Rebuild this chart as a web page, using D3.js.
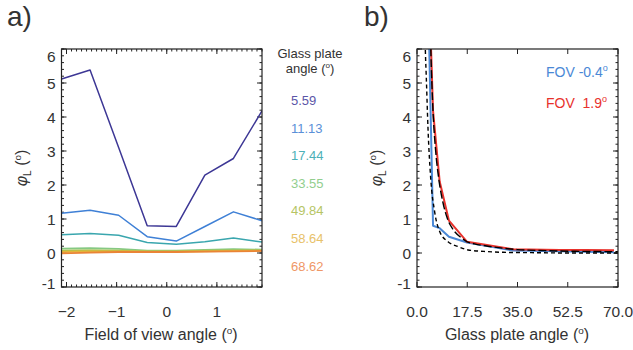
<!DOCTYPE html>
<html><head><meta charset="utf-8">
<script src="https://cdn.jsdelivr.net/npm/d3@7"></script>
<style>
html,body{margin:0;padding:0;background:#fff;}
svg{display:block;font-family:"Liberation Sans",Arial,Helvetica,sans-serif;}
</style></head>
<body><svg id="c" width="633" height="350"></svg>
<script>
// ---------------- DATA ----------------
// Panel a: field of view angles (deg)
const fovAngles = [-2.10, -1.53, -0.96, -0.39, 0.19, 0.76, 1.33, 1.90];
// Glass plate angles (legend labels)
const plateAngleLabels = ["5.59", "11.13", "17.44", "33.55", "49.84", "58.64", "68.62"];
// phi_L (deg) per glass plate angle, across field of view angles
const phi_5_59  = [5.12, 5.38, 3.10, 0.80, 0.78, 2.29, 2.78, 4.18];
const phi_11_13 = [1.17, 1.26, 1.11, 0.48, 0.35, 0.78, 1.21, 0.95];
const phi_17_44 = [0.54, 0.57, 0.52, 0.31, 0.26, 0.33, 0.44, 0.32];
const phi_33_55 = [0.13, 0.14, 0.12, 0.07, 0.07, 0.09, 0.11, 0.10];
const phi_49_84 = [0.07, 0.08, 0.07, 0.05, 0.05, 0.07, 0.08, 0.08];
const phi_58_64 = [0.03, 0.05, 0.05, 0.04, 0.04, 0.05, 0.06, 0.07];
const phi_68_62 = [-0.01, 0.01, 0.03, 0.03, 0.03, 0.04, 0.05, 0.06];
const seriesA = [phi_5_59, phi_11_13, phi_17_44, phi_33_55, phi_49_84, phi_58_64, phi_68_62];

// Panel b: glass plate angle (deg) vs phi_L for two FOV angles
const plateAnglesB = [3.0, 5.59, 7.9, 11.13, 17.44, 33.55, 49.84, 58.64, 68.62];
const phiFovM04 = [11.0, 0.80, 0.73, 0.48, 0.31, 0.07, 0.05, 0.04, 0.02];
const phiFov19  = [11.0, 4.18, 2.10, 0.95, 0.33, 0.11, 0.09, 0.09, 0.08];
const fovLegend = ["FOV -0.4", "FOV  1.9"];
// model curves (black dashed)
const modelLongAngles = [4.5, 4.8, 5.58, 6.5, 7.55, 9.0, 10.55, 12.5, 15.4, 17.5, 20.0, 24.7, 30.0, 35.0, 45.0, 55.0, 70.0];
const modelLongVals   = [7.0, 6.0, 4.16, 3.00, 2.20, 1.50, 1.02, 0.70, 0.45, 0.33, 0.27, 0.20, 0.14, 0.10, 0.07, 0.05, 0.04];
const modelShortAngles = [2.7, 2.9, 3.25, 3.83, 4.77, 6.15, 7.9, 10.8, 14.3, 17.8, 24.7, 30.0, 40.0, 55.0, 70.0];
const modelShortVals   = [6.8, 6.0, 5.14, 3.67, 2.20, 1.21, 0.63, 0.33, 0.19, 0.09, 0.04, 0.02, 0.01, 0.00, 0.00];

// Axis ticks
const yTicks = [-1, 0, 1, 2, 3, 4, 5, 6];
const xTicksA = [-2, -1, 0, 1];
const xTicksB = [0, 17.5, 35, 52.5, 70];

// ---------------- STYLE ----------------
const lineColors = ["#3d3795", "#3f80d6", "#3aa6ae", "#86c982", "#b3c24a", "#e4b43a", "#ea8436"];
const textColors = ["#5b56a8", "#5a90d8", "#4cb0b7", "#92ce8e", "#b6c565", "#e8c26a", "#ef9766"];
const fovColors = ["#4a88d6", "#e8322c"];
const ink = "#222";
const labelColor = "#333";

const svg = d3.select("#c");
const defs = svg.append("defs");

const yDomain = [-1, 6];
const plotTop = 49, plotBot = 287;

function superDeg(sel, fs) {
  sel.append("tspan").text("(");
  sel.append("tspan").attr("font-size", fs * 0.62).attr("dy", -fs * 0.38).text("o");
  sel.append("tspan").attr("dy", fs * 0.38).text(")");
}

function panel(id, x0, x1, xDomain, xTicks, xMinorStep, xFmt) {
  const x = d3.scaleLinear().domain(xDomain).range([x0, x1]);
  const y = d3.scaleLinear().domain(yDomain).range([plotBot, plotTop]);
  defs.append("clipPath").attr("id", "clip" + id).append("rect")
    .attr("x", x0).attr("y", plotTop).attr("width", x1 - x0).attr("height", plotBot - plotTop);
  const g = svg.append("g");
  const ticks = g.append("g").attr("stroke", ink).attr("stroke-width", 1);
  if (xMinorStep) {
    const minors = d3.range(Math.ceil(xDomain[0] / xMinorStep) * xMinorStep, xDomain[1] + 1e-9, xMinorStep);
    minors.forEach(v => {
      ticks.append("line").attr("x1", x(v)).attr("x2", x(v)).attr("y1", plotBot).attr("y2", plotBot - 2.5);
      ticks.append("line").attr("x1", x(v)).attr("x2", x(v)).attr("y1", plotTop).attr("y2", plotTop + 2.5);
    });
  }
  xTicks.forEach(v => {
    ticks.append("line").attr("x1", x(v)).attr("x2", x(v)).attr("y1", plotBot).attr("y2", plotBot - 5);
    ticks.append("line").attr("x1", x(v)).attr("x2", x(v)).attr("y1", plotTop).attr("y2", plotTop + 5);
  });
  d3.range(-1, 6.0001, 0.2).forEach(v => {
    ticks.append("line").attr("x1", x0).attr("x2", x0 + 2.5).attr("y1", y(v)).attr("y2", y(v));
    ticks.append("line").attr("x1", x1).attr("x2", x1 - 2.5).attr("y1", y(v)).attr("y2", y(v));
  });
  yTicks.forEach(v => {
    ticks.append("line").attr("x1", x0).attr("x2", x0 + 5).attr("y1", y(v)).attr("y2", y(v));
    ticks.append("line").attr("x1", x1).attr("x2", x1 - 5).attr("y1", y(v)).attr("y2", y(v));
  });
  yTicks.forEach((v, i) => {
    let dy = 0;
    if (i === yTicks.length - 1) dy = 7;
    if (i === 0) dy = -4;
    g.append("text").attr("x", x0 - 6).attr("y", y(v) + dy + 5.5)
      .attr("text-anchor", "end").attr("font-size", 15.5).attr("fill", labelColor).text(v);
  });
  xTicks.forEach(v => {
    g.append("text").attr("x", x(v)).attr("y", 317)
      .attr("text-anchor", "middle").attr("font-size", 15.5).attr("fill", labelColor).text(xFmt(v));
  });
  return {x, y, g, clip: "url(#clip" + id + ")", x0, x1};
}

// ---------- Panel a ----------
const A = panel("a", 61.5, 262, [-2.1, 1.9], xTicksA, 0.1, d3.format("d"));
const lineA = d3.line().x((d, i) => A.x(fovAngles[i])).y(d => A.y(d));
const gA = svg.append("g").attr("clip-path", A.clip);
seriesA.forEach((s, k) => {
  gA.append("path").attr("d", lineA(s)).attr("fill", "none")
    .attr("stroke", lineColors[k]).attr("stroke-width", k >= 3 ? 1.8 : 1.5).attr("stroke-linejoin", "round");
});
svg.append("rect").attr("x", A.x0).attr("y", plotTop).attr("width", A.x1 - A.x0).attr("height", plotBot - plotTop)
  .attr("fill", "none").attr("stroke", ink).attr("stroke-width", 1.2);

svg.append("text").attr("x", 310).attr("y", 58).attr("text-anchor", "middle").attr("font-size", 13)
  .attr("fill", labelColor).text("Glass plate");
const leg2 = svg.append("text").attr("x", 310).attr("y", 72.5).attr("text-anchor", "middle").attr("font-size", 13)
  .attr("fill", labelColor);
leg2.append("tspan").text("angle ");
superDeg(leg2, 13);
plateAngleLabels.forEach((t, k) => {
  svg.append("text").attr("x", 291).attr("y", 105 + k * 27.6).attr("font-size", 13)
    .attr("fill", textColors[k]).text(t);
});

// ---------- Panel b ----------
const B = panel("b", 417, 618, [0, 70], xTicksB, null, d3.format(".1f"));
const gB = svg.append("g").attr("clip-path", B.clip);
const lineB = d3.line().x((d, i) => B.x(plateAnglesB[i])).y(d => B.y(d));
[phiFovM04, phiFov19].forEach((s, k) => {
  gB.append("path").attr("d", lineB(s)).attr("fill", "none")
    .attr("stroke", fovColors[k]).attr("stroke-width", 2).attr("stroke-linejoin", "round");
});
const lineModel = (angles) => d3.line().curve(d3.curveMonotoneX).x((d, i) => B.x(angles[i])).y(d => B.y(d));
gB.append("path").attr("d", lineModel(modelLongAngles)(modelLongVals)).attr("fill", "none")
  .attr("stroke", "#000").attr("stroke-width", 1.4).attr("stroke-dasharray", "8,3");
gB.append("path").attr("d", lineModel(modelShortAngles)(modelShortVals)).attr("fill", "none")
  .attr("stroke", "#000").attr("stroke-width", 1.4).attr("stroke-dasharray", "4,3");
svg.append("rect").attr("x", B.x0).attr("y", plotTop).attr("width", B.x1 - B.x0).attr("height", plotBot - plotTop)
  .attr("fill", "none").attr("stroke", ink).attr("stroke-width", 1.2);

fovLegend.forEach((t, k) => {
  const tx = svg.append("text").attr("x", 546).attr("y", 77 + k * 31).attr("font-size", 14)
    .attr("fill", fovColors[k]).style("white-space", "pre");
  tx.append("tspan").text(t);
  tx.append("tspan").attr("font-size", 9).attr("dy", -6).text("o");
});

// ---------- Titles ----------
function xTitle(cx, txt) {
  const t = svg.append("text").attr("x", cx).attr("y", 340).attr("text-anchor", "middle")
    .attr("font-size", 16).attr("fill", labelColor);
  t.append("tspan").text(txt + " ");
  superDeg(t, 16);
}
xTitle(161, "Field of view angle");
xTitle(517, "Glass plate angle");

function yTitle(bx) {
  const t = svg.append("text").attr("transform", `translate(${bx},168) rotate(-90)`)
    .attr("text-anchor", "middle").attr("font-size", 16).attr("fill", labelColor);
  t.append("tspan").attr("font-style", "italic").text("φ");
  t.append("tspan").attr("font-size", 10).attr("dy", 4).text("L");
  t.append("tspan").attr("dy", -4).text(" ");
  superDeg(t, 16);
}
yTitle(27);
yTitle(382);

svg.append("text").attr("x", 7).attr("y", 26).attr("font-size", 28).attr("fill", labelColor).text("a)");
svg.append("text").attr("x", 364).attr("y", 26).attr("font-size", 28).attr("fill", labelColor).text("b)");
</script>
</body></html>
